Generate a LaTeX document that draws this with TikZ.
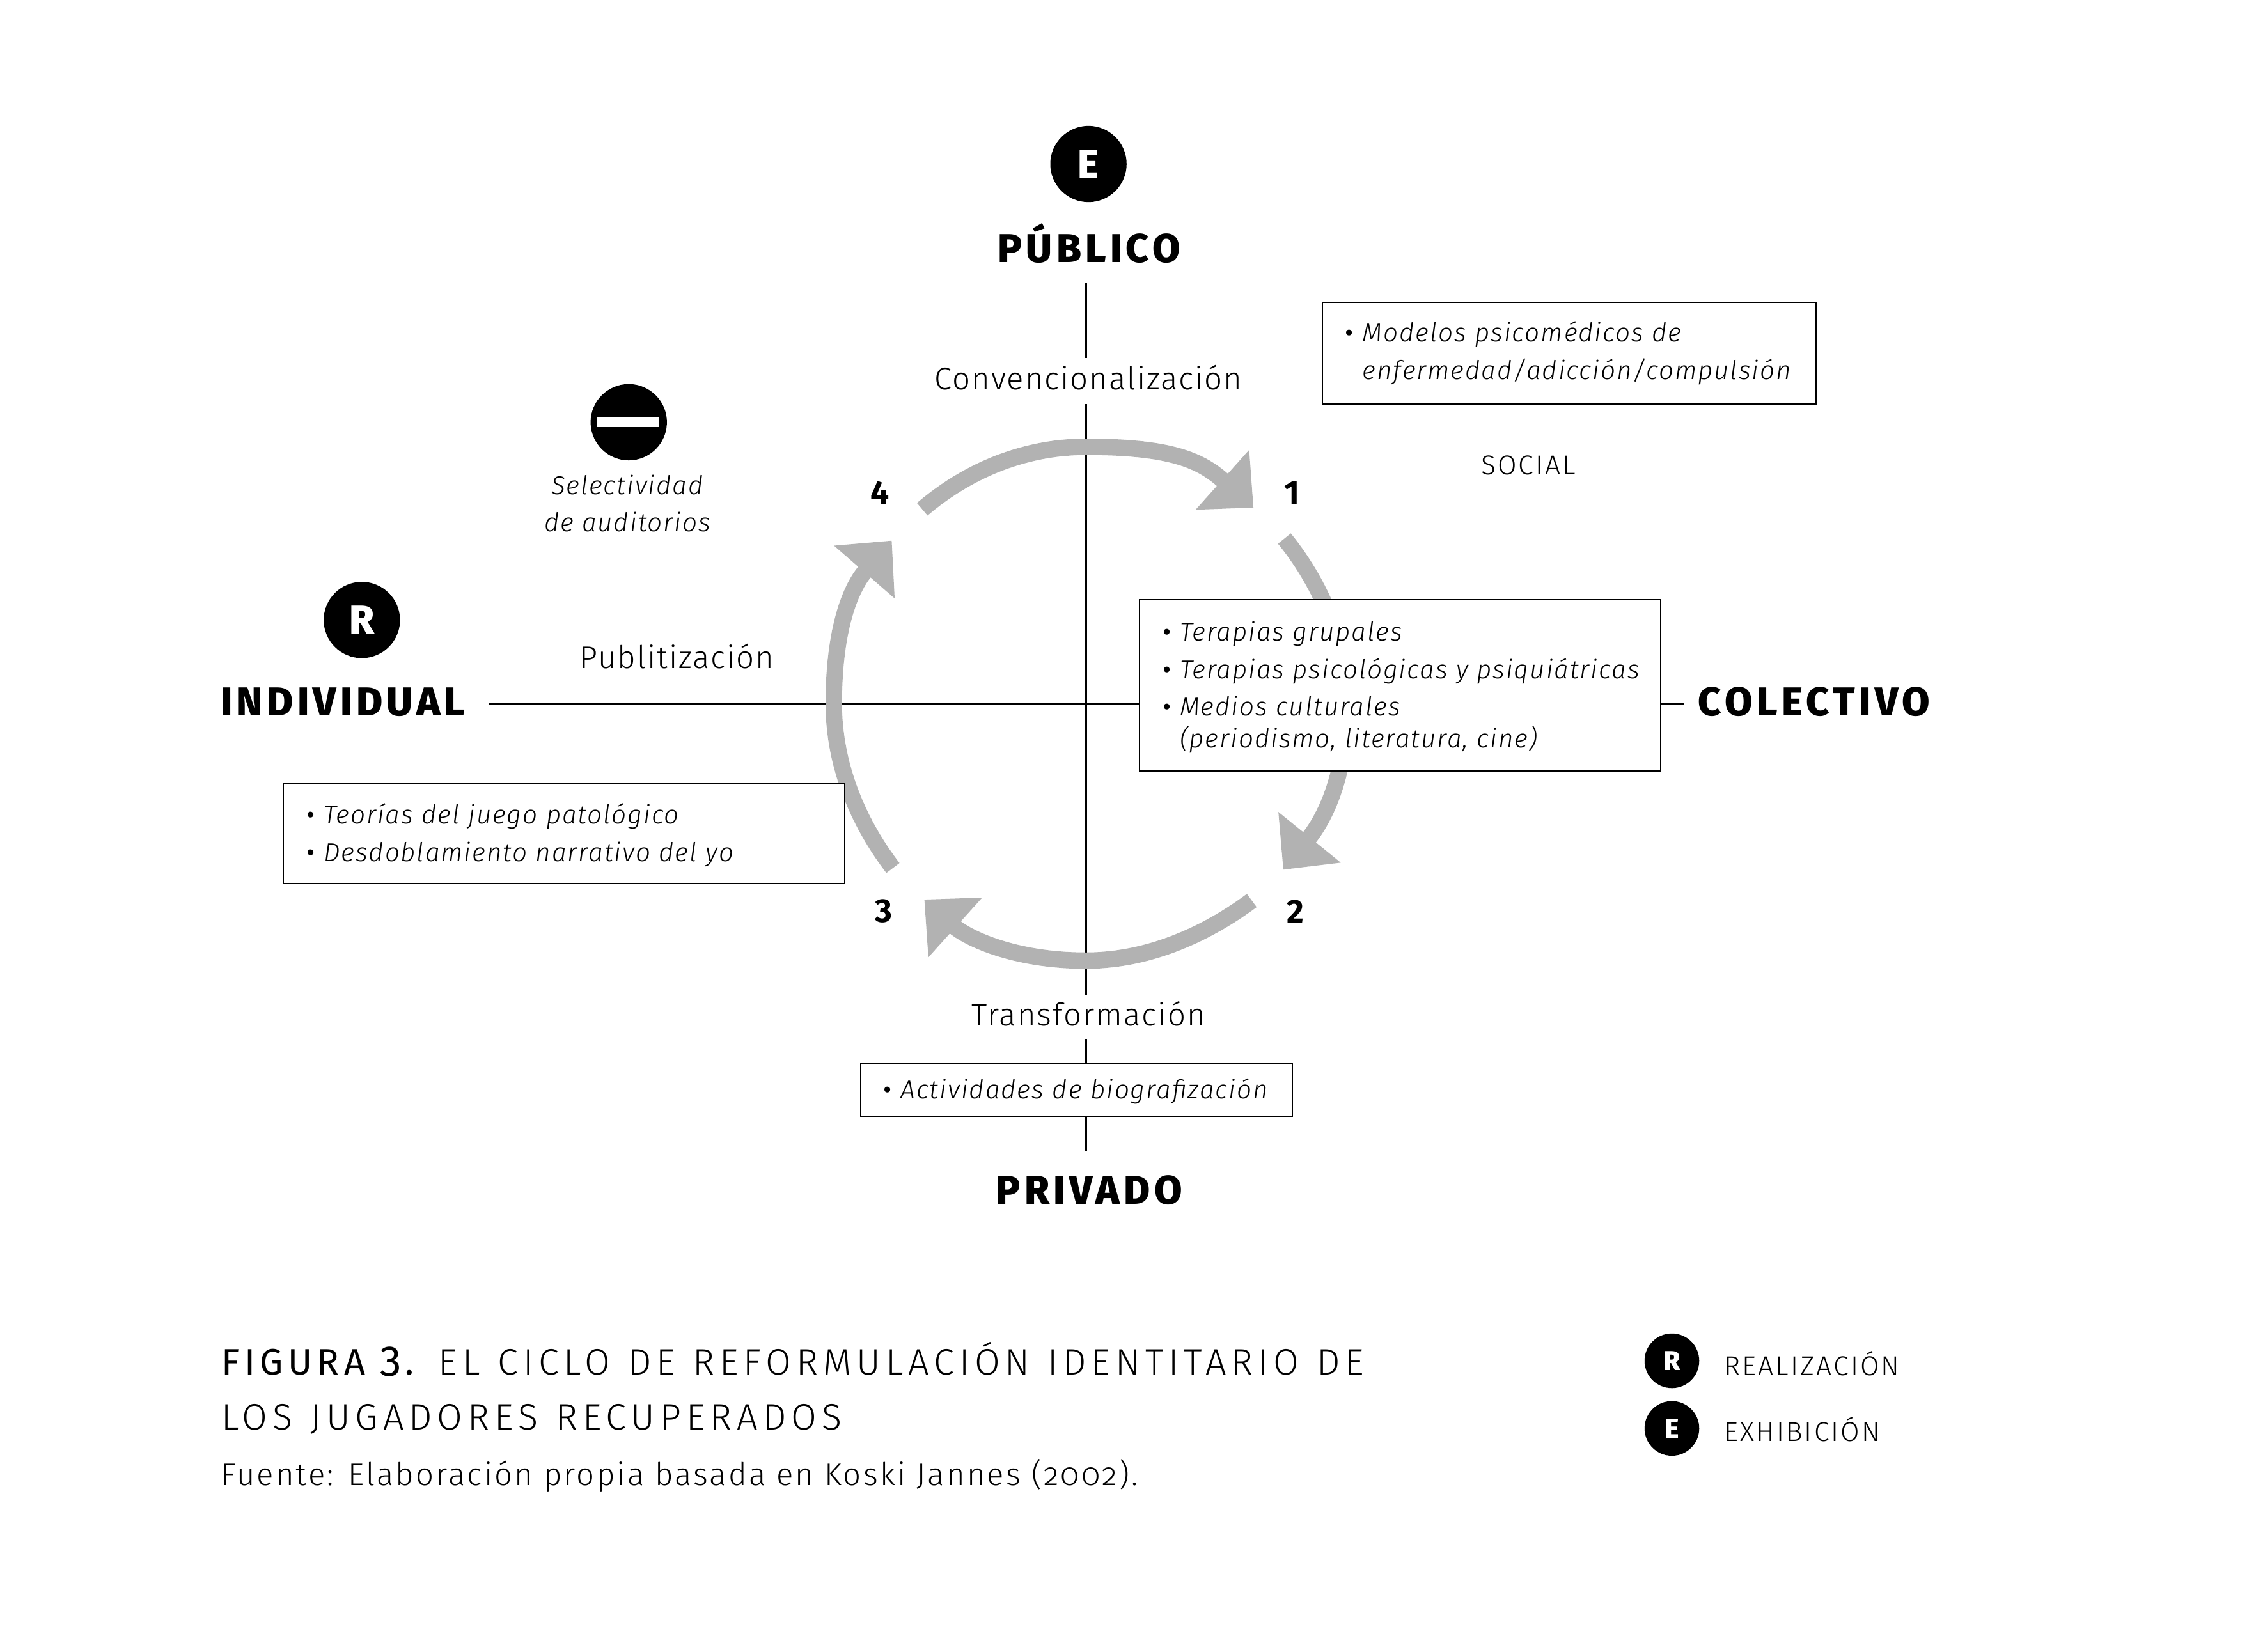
\documentclass[tikz,border=0pt]{standalone}
\usepackage{fontspec}
\usetikzlibrary{arrows.meta}
\setmainfont{Fira Sans}
\newfontfamily\fLight[LetterSpace=4]{Fira Sans Light}
\newfontfamily\fSrc[LetterSpace=6.5,Numbers=OldStyle]{Fira Sans Light}
\newfontfamily\fLeg[LetterSpace=7.2]{Fira Sans Light}
\newfontfamily\fCap[LetterSpace=13.8,WordSpace=1.15]{Fira Sans Light}
\newfontfamily\fCapB[LetterSpace=13,Numbers=OldStyle]{Fira Sans}
\newfontfamily\fHeavy[LetterSpace=10]{Fira Sans ExtraBold}
\newfontfamily\fBold{Fira Sans ExtraBold}
\newfontfamily\fIt[LetterSpace=4.6]{Fira Sans Light Italic}
\newfontfamily\fBul{Fira Sans}
\newcommand{\blt}[1]{\hspace*{0.5pt}\makebox[6pt][l]{{\fBul •}}#1}
\newcommand{\ind}[1]{\hspace*{6.5pt}#1}
\newcommand{\topfix}{\rule{0pt}{8pt}}
\hyphenpenalty=10000
\exhyphenpenalty=10000
\tikzset{
 x=0.5pt,y=-0.5pt,
 axisline/.style={draw=black,line width=0.85pt},
 cyc/.style={draw=cycgray,line width=5.7pt,-{Triangle[length=14.5pt,width=27pt,fill=cycgray]}},
 panel/.style={draw=black,line width=0.45pt,fill=white,align=left,inner ysep=0pt,font=\fIt\fontsize{9pt}{13pt}\selectfont},
 pole/.style={inner sep=0pt,anchor=base,font=\fHeavy\fontsize{14pt}{16pt}\selectfont},
 proc/.style={inner sep=0pt,anchor=base,font=\fLight\fontsize{10.9pt}{13pt}\selectfont},
 step num/.style={inner sep=0pt,font=\bfseries\fontsize{11.5pt}{13pt}\selectfont},
 disc/.style={circle,fill=black,text=white,inner sep=0pt,font=\fBold},
 plain/.style={inner sep=0pt,anchor=base west},
}
\definecolor{cycgray}{HTML}{B2B2B2}
\begin{document}
\begin{tikzpicture}
\useasboundingbox (0,0) rectangle (1568,1148);
\fill[white] (0,0) rectangle (1568,1148);
% axes
\coordinate (axN) at (754.7,197);
\coordinate (axS) at (754.7,800);
\coordinate (axW) at (340,489.2);
\coordinate (axE) at (1170,489.2);
\draw[axisline] (axN) -- (axS);
\draw[axisline] (axW) -- (axE);
% cycle
\coordinate (a1s) at (641,354);
\coordinate (a1m) at (754.7,310.6);
\coordinate (a1e) at (871.2,352.9);
\coordinate (a2s) at (892.7,374.4);
\coordinate (a2m) at (936,489);
\coordinate (a2e) at (891.9,604.6);
\coordinate (a3s) at (870,626);
\coordinate (a3m) at (754.7,667.8);
\coordinate (a3e) at (642.4,625.3);
\coordinate (a4s) at (620.6,603.4);
\coordinate (a4m) at (579.5,489.2);
\coordinate (a4e) at (619.8,375.8);
\draw[cyc] (a1s) .. controls (675,325) and (715,310.6) .. (a1m) .. controls (815,310.6) and (835,320.5) .. (a1e);
\draw[cyc] (a2s) .. controls (920,408) and (936,450) .. (a2m) .. controls (936,540) and (920,570) .. (a2e);
\draw[cyc] (a3s) .. controls (835,652) and (795,667.8) .. (a3m) .. controls (705,667.8) and (672,652) .. (a3e);
\draw[cyc] (a4s) .. controls (595,570) and (579.5,530) .. (a4m) .. controls (579.5,440) and (590,410) .. (a4e);
% discs
\node[disc,minimum size=26.5pt,font=\fBold\fontsize{14pt}{15pt}\selectfont] (discE) at (756.5,114) {E};
\node[disc,minimum size=26.5pt,font=\fBold\fontsize{14pt}{15pt}\selectfont] (discR) at (251.5,431) {R};
\node[disc,minimum size=26.5pt] (discM) at (437,293.5) {};
\fill[white] (415,290) rectangle (458,297);
% poles
\node[pole] (pub) at (757,182.4) {PÚBLICO};
\node[pole] (priv) at (757,837) {PRIVADO};
\node[pole,anchor=base west] (indiv) at (153,497.5) {INDIVIDUAL};
\node[pole,anchor=base west] (colec) at (1180,497.5) {COLECTIVO};
% process labels
\node[proc,fill=white,inner xsep=3pt,text height=11pt,text depth=5pt] (conv) at (756.5,271) {Convencionalización};
\node[proc] (publ) at (470.5,464.5) {Publitización};
\node[proc,fill=white,inner xsep=3pt,text height=10.5pt,text depth=4.5pt] (trans) at (756.5,713) {Transformación};
\node[plain,font=\fLeg\fontsize{9.5pt}{12pt}\selectfont] (soc) at (1029,330) {SOCIAL};
% numbers
\node[step num] (n1) at (898,342.5) {1};
\node[step num] (n2) at (900.5,633.5) {2};
\node[step num] (n3) at (614,633.5) {3};
\node[step num] (n4) at (611.5,342.5) {4};
% selectivity
\node[inner sep=0pt,align=center,font=\fIt\fontsize{9pt}{13pt}\selectfont] (sel) at (436,350) {Selectividad\\de auditorios};
% panels
\node[panel,text width=156.5pt,inner xsep=7.5pt,minimum height=35.5pt] (pTop) at (1090.5,245.5) {\blt{Modelos psicomédicos de}\\\ind{enfermedad/adicción/compulsión}};
\node[panel,text width=166pt,inner xsep=7.5pt,minimum height=59.5pt] (pMid) at (973,476.5) {\topfix\blt{Terapias grupales}\\\blt{Terapias psicológicas y psiquiátricas}\\\blt{Medios culturales}\\[-2pt]\ind{(periodismo, literatura, cine)}};
\node[panel,text width=180pt,inner xsep=7.5pt,minimum height=34.5pt] (pLeft) at (392,579.5) {\topfix\blt{Teorías del juego patológico}\\\blt{Desdoblamiento narrativo del yo}};
\node[panel,text width=135pt,inner xsep=7.5pt,minimum height=18.5pt] (pBot) at (748,757.5) {\topfix\blt{Actividades de biografización}};
% caption
\node[plain,font=\fontsize{12.8pt}{15pt}\selectfont] (cap1) at (153.5,955.6) {{\fCapB FIGURA \raisebox{1.1pt}{\fontsize{15pt}{15pt}\selectfont 3}\hspace{1.5pt}.}\hspace{4pt} {\fCap EL CICLO DE REFORMULACIÓN IDENTITARIO DE}};
\node[plain,font=\fCap\fontsize{12.8pt}{15pt}\selectfont] (cap2) at (153.5,994) {LOS JUGADORES RECUPERADOS};
\node[plain,font=\fSrc\fontsize{10.9pt}{13pt}\selectfont] (src) at (153,1032.6) {Fuente: Elaboración propia basada en Koski Jannes (2002).};
% legend
\node[disc,minimum size=19pt,font=\fBold\fontsize{9.5pt}{11pt}\selectfont] (lgR) at (1162,946) {R};
\node[disc,minimum size=19pt,font=\fBold\fontsize{9.5pt}{11pt}\selectfont] (lgE) at (1162,993) {E};
\node[plain,font=\fLeg\fontsize{9.5pt}{12pt}\selectfont] (txR) at (1198,956) {REALIZACIÓN};
\node[plain,font=\fLeg\fontsize{9.5pt}{12pt}\selectfont] (txE) at (1198,1002) {EXHIBICIÓN};
\end{tikzpicture}
\end{document}
